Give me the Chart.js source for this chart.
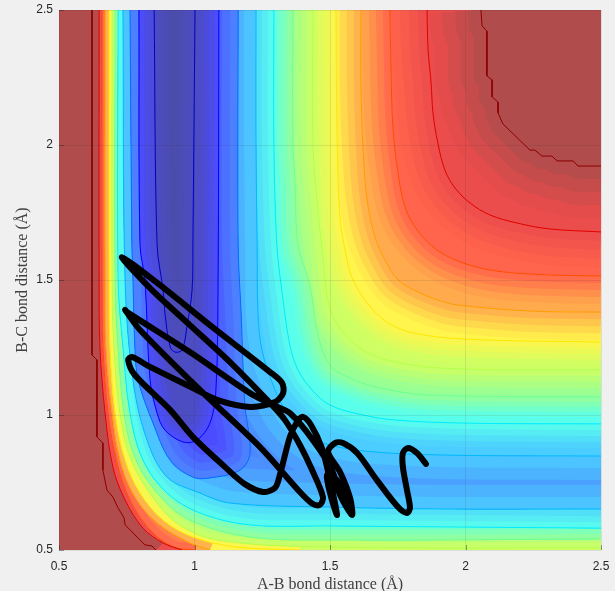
<!DOCTYPE html>
<html><head><meta charset="utf-8">
<style>html,body{margin:0;padding:0;background:#f0f0f0}canvas{display:block}</style>
<script src="https://cdn.jsdelivr.net/npm/chart.js@4"></script>
</head><body><canvas id="c" width="615" height="591"></canvas>
<script>
const tickValues=[0.5,1,1.5,2,2.5];
const xTitle='A-B bond distance (Å)';
const yTitle='B-C bond distance (Å)';
const trajectory=[[1.854,.819],[1.821,.859],[1.788,.878],[1.769,.859],[1.769,.807],[1.784,.722],[1.795,.656],[1.784,.637],[1.751,.659],[1.673,.759],[1.6,.859],[1.548,.896],[1.518,.896],[1.493,.863],[1.537,.789],[1.574,.693],[1.581,.63],[1.537,.704],[1.507,.796],[1.437,.907],[1.352,1.007],[1.29,1.037],[1.205,1.081],[.983,1.233],[.751,1.381],[.744,1.389],[.799,1.315],[1.02,1.093],[1.242,.881],[1.389,.715],[1.437,.67],[1.463,.667],[1.474,.696],[1.434,.796],[1.389,.889],[1.334,.981],[1.279,1.044],[1.131,1.196],[.983,1.333],[.836,1.47],[.732,1.585],[.873,1.481],[1.057,1.333],[1.279,1.159],[1.323,1.119],[1.327,1.081],[1.297,1.048],[1.205,1.03],[1.083,1.056],[.994,1.1],[.836,1.178],[.769,1.215],[.755,1.204],[.78,1.148],[.91,1.019],[.994,.919],[1.113,.807],[1.186,.744],[1.253,.715],[1.297,.73],[1.315,.778],[1.352,.919],[1.378,.974],[1.4,.993],[1.43,.963],[1.47,.878],[1.5,.759],[1.526,.63],[1.504,.696],[1.489,.778],[1.525,.76],[1.57,.655],[1.578,.632]];
const contour1=[[.851,2.5],[.862,1.63],[.884,1.463],[.891,1.378],[.91,1.252],[.928,1.233],[.954,1.241],[.972,1.326],[.991,1.463],[.994,1.63],[1.002,2.5]];
const contour2=[[.795,2.5],[.799,1.63],[.817,1.5],[.836,1.13],[.862,1.007],[.891,.944],[.958,.9],[1.009,.907],[1.057,.97],[1.079,1.093],[1.087,1.5],[1.09,2.5]];
const contour3=[[.762,2.5],[.769,1.63],[.773,1.5],[.78,1.252],[.792,1.13],[.847,.97],[.91,.833],[.994,.77],[1.057,.767],[1.168,.796],[1.205,.859],[1.186,1.037],[1.172,1.378],[1.161,1.63],[1.161,2.5]];
const contour4Low=[[.736,2.5],[.744,1.5],[.773,1.13],[.825,.907],[.899,.77],[1.02,.711],[1.131,.674],[1.5,.659],[1.906,.652],[2.5,.652]];
const contour4Up=[[1.227,2.5],[1.227,2.007],[1.231,1.63],[1.234,1.381],[1.249,1.241],[1.29,1.111],[1.341,1.007],[1.408,.933],[1.474,.896],[1.622,.867],[1.906,.852],[2.5,.848]];
const contour5Low=[[.718,2.5],[.718,1.5],[.736,1.252],[.762,1.007],[.81,.833],[.899,.711],[1.02,.637],[1.205,.593],[1.5,.589],[2.5,.581]];
const contour5Up=[[1.293,2.5],[1.293,2.007],[1.304,1.63],[1.327,1.426],[1.352,1.259],[1.382,1.167],[1.434,1.093],[1.5,1.037],[1.622,1],[1.747,.981],[1.998,.97],[2.5,.967]];
const contour6Low=[[.707,2.5],[.707,1.5],[.718,1.252],[.74,1.007],[.78,.844],[.862,.711],[.983,.611],[1.205,.548],[1.5,.537],[2.5,.541]];
const contour6Up=[[1.363,2.5],[1.363,2.007],[1.371,1.859],[1.382,1.63],[1.426,1.481],[1.456,1.296],[1.5,1.185],[1.574,1.137],[1.685,1.1],[1.869,1.074],[2.5,1.067]];
const contour7Low=[[.696,2.5],[.696,1.5],[.703,1.252],[.725,1.007],[.762,.844],[.836,.711],[.935,.6],[1.083,.537],[1.5,.511],[2.5,.507]];
const contour7Up=[[1.437,2.5],[1.437,2.007],[1.452,1.796],[1.474,1.585],[1.5,1.396],[1.563,1.289],[1.659,1.222],[1.806,1.185],[1.998,1.17],[2.5,1.167]];
const contour8Low=[[.685,2.5],[.685,1.5],[.688,1.252],[.707,1.007],[.744,.833],[.799,.711],[.884,.611],[.994,.548],[1.157,.511],[1.389,.5]];
const contour8Up=[[1.522,2.5],[1.526,2.044],[1.537,1.733],[1.563,1.574],[1.585,1.5],[1.637,1.415],[1.71,1.344],[1.806,1.304],[1.998,1.281],[2.5,1.27]];
const contour9Low=[[.67,2.5],[.67,1.5],[.673,1.252],[.696,1.007],[.725,.833],[.78,.696],[.862,.6],[.983,.526],[1.057,.5]];
const contour9Up=[[1.614,2.5],[1.614,2.23],[1.622,1.981],[1.637,1.796],[1.666,1.659],[1.703,1.574],[1.751,1.5],[1.832,1.452],[1.932,1.415],[1.998,1.404],[2.238,1.385],[2.5,1.381]];
const contour10Low=[[.659,2.5],[.659,1.5],[.662,1.252],[.681,1.007],[.714,.822],[.762,.685],[.836,.574],[.921,.511],[1.002,.5]];
const contour10Up=[[1.721,2.5],[1.725,2.289],[1.732,2.067],[1.751,1.896],[1.777,1.77],[1.821,1.685],[1.895,1.611],[1.991,1.563],[2.116,1.533],[2.301,1.519],[2.5,1.515]];
const contour11Low=[[.648,2.5],[.648,1.5],[.651,1.252],[.67,1.007],[.699,.807],[.744,.685],[.81,.581],[.884,.526],[.954,.5]];
const contour11Up=[[1.858,2.5],[1.862,2.352],[1.873,2.23],[1.88,2.119],[1.898,2.007],[1.924,1.907],[1.961,1.841],[2.017,1.785],[2.09,1.741],[2.19,1.711],[2.312,1.689],[2.5,1.678]];
const contour12Low=[[.622,2.5],[.622,1.222],[.64,1.204],[.64,.919],[.662,.896],[.662,.796],[.677,.722],[.699,.696],[.718,.656],[.74,.619],[.744,.593],[.817,.519],[.843,.515],[.858,.5]];
const contour12Up=[[2.057,2.5],[2.061,2.441],[2.079,2.422],[2.079,2.256],[2.098,2.241],[2.098,2.178],[2.12,2.159],[2.12,2.119],[2.138,2.078],[2.238,1.981],[2.256,1.981],[2.282,1.959],[2.319,1.959],[2.338,1.941],[2.397,1.941],[2.415,1.922],[2.5,1.922]];
const levelColors=[[176,76,76],[235,76,76],[255,100,76],[255,170,76],[255,245,76],[205,255,100],[150,255,150],[90,255,235],[76,205,255],[76,135,255],[76,76,255],[76,76,195],[76,76,170]];
const lineColors=['#8b0000','#e00000','#ff4a00','#ff9a00','#ffe800','#b8ff48','#70ff90','#00eeff','#00baff','#0070ff','#0000ff','#0000d0'];
const bandSteps=[13,9,7,7,6,6,5,6,12,8,5,5];
const levels=[[contour12Low,contour12Up],[contour11Low,contour11Up],[contour10Low,contour10Up],[contour9Low,contour9Up],[contour8Low,contour8Up],[contour7Low,contour7Up],[contour6Low,contour6Up],[contour5Low,contour5Up],[contour4Low,contour4Up],[contour3,[]],[contour2,[]],[contour1,[]]];

const asPts=a=>a.map(p=>({x:p[0],y:p[1]}));
const datasets=[{data:asPts(trajectory),type:'scatter',showLine:true,borderColor:'#000',borderWidth:6,tension:.3,pointRadius:0,borderCapStyle:'round',borderJoinStyle:'round'}];
const branchIndex=[];
levels.forEach((lv,k)=>{
  const idx=[];
  lv.forEach(b=>{
    if(!b.length){idx.push(-1);return;}
    idx.push(datasets.length);
    datasets.push({data:asPts(b),type:'scatter',showLine:true,borderColor:lineColors[k],borderWidth:1,tension:k===0?0:.35,pointRadius:0});
  });
  branchIndex.push(idx);
});
const mix=(a,b,t)=>`rgb(${a.map((v,i)=>Math.round(v+(b[i]-v)*t)).join(',')})`;
function seg(ctx,p,q,flip){
  const a=flip?p.cp1x:p.cp2x,b=flip?p.cp1y:p.cp2y,c=flip?q.cp2x:q.cp1x,d=flip?q.cp2y:q.cp1y;
  if(a===undefined||c===undefined)ctx.lineTo(q.x,q.y);else ctx.bezierCurveTo(a,b,c,d,q.x,q.y);
}
function trace(ctx,pts,start,flip){
  const arr=flip?pts.slice().reverse():pts;
  if(start)ctx.moveTo(arr[0].x,arr[0].y);else ctx.lineTo(arr[0].x,arr[0].y);
  for(let i=1;i<arr.length;i++)seg(ctx,arr[i-1],arr[i],flip);
}
const bandPlugin={id:'bands',
  beforeDatasetsDraw(chart){
    const ctx=chart.ctx,A=chart.chartArea;
    ctx.save();
    ctx.beginPath();ctx.rect(A.left,A.top,A.right-A.left,A.bottom-A.top);ctx.clip();
    ctx.fillStyle=mix(levelColors[0],levelColors[0],0);
    ctx.fillRect(A.left,A.top,A.right-A.left,A.bottom-A.top);
    const yScale=chart.scales.y;
    branchIndex.forEach((idx,k)=>{
      const low=chart.getDatasetMeta(idx[0]).data;
      const up=idx[1]>=0?chart.getDatasetMeta(idx[1]).data:null;
      const from=levelColors[k],to=levelColors[k+1];
      ctx.save();
      ctx.beginPath();
      trace(ctx,low,true,false);
      if(up){
        const last=levels[k][0][levels[k][0].length-1];
        if(last[1]===yScale.min)ctx.lineTo(A.right,A.bottom);
        trace(ctx,up,false,true);
      }
      ctx.closePath();
      ctx.fillStyle=mix(to,to,0);ctx.fill();ctx.clip();
      ctx.lineJoin='round';ctx.lineCap='butt';
      for(let s=4;s>=1;s--){
        ctx.lineWidth=2*s*bandSteps[k];
        ctx.strokeStyle=mix(from,to,(s-.5)/4);
        ctx.beginPath();trace(ctx,low,true,false);ctx.stroke();
        if(up){ctx.beginPath();trace(ctx,up,true,false);ctx.stroke();}
      }
      ctx.restore();
    });
    ctx.restore();
  },
  afterDatasetsDraw(chart){
    const ctx=chart.ctx,A=chart.chartArea,{x,y}=chart.scales;
    ctx.save();ctx.strokeStyle='rgba(38,38,38,.45)';ctx.lineWidth=1;ctx.beginPath();
    tickValues.forEach(v=>{
      const px=Math.round(x.getPixelForValue(v))+.5,py=Math.round(y.getPixelForValue(v))+.5;
      ctx.moveTo(px,A.bottom);ctx.lineTo(px,A.bottom-5);
      ctx.moveTo(A.left,py);ctx.lineTo(A.left+5,py);
    });
    ctx.stroke();ctx.restore();
  }
};
const clearPad=s=>{s.paddingLeft=0;s.paddingRight=0;s.paddingTop=0;s.paddingBottom=0;};
const axis=(title,fit,pad)=>({
  type:'linear',min:.5,max:2.5,afterFit:fit,
  afterBuildTicks(s){s.ticks=tickValues.map(v=>({value:v}));},
  ticks:{color:'#262626',font:{family:'"Liberation Sans",Arial,sans-serif',size:12},autoSkip:false,maxRotation:0,padding:pad,callback:v=>String(v)},
  grid:{color:'rgba(38,38,38,.1)',z:1,drawTicks:false},
  border:{display:false},
  title:title
});
new Chart(document.getElementById('c'),{
  type:'scatter',
  data:{datasets},
  plugins:[bandPlugin],
  options:{
    responsive:false,animation:false,devicePixelRatio:1,
    layout:{padding:{top:10,right:14,left:0,bottom:0}},
    plugins:{legend:{display:false},tooltip:{enabled:false}},
    scales:{
      x:axis({display:true,text:xTitle,color:'#404040',font:{family:'"Liberation Serif",serif',size:16},padding:{top:0,bottom:-3}},s=>{s.height=41;clearPad(s);},9),
      y:axis({display:true,text:yTitle,color:'#404040',font:{family:'"Liberation Serif",serif',size:16},padding:{top:13,bottom:0}},s=>{s.width=59;clearPad(s);},6)
    }
  }
});
</script></body></html>
